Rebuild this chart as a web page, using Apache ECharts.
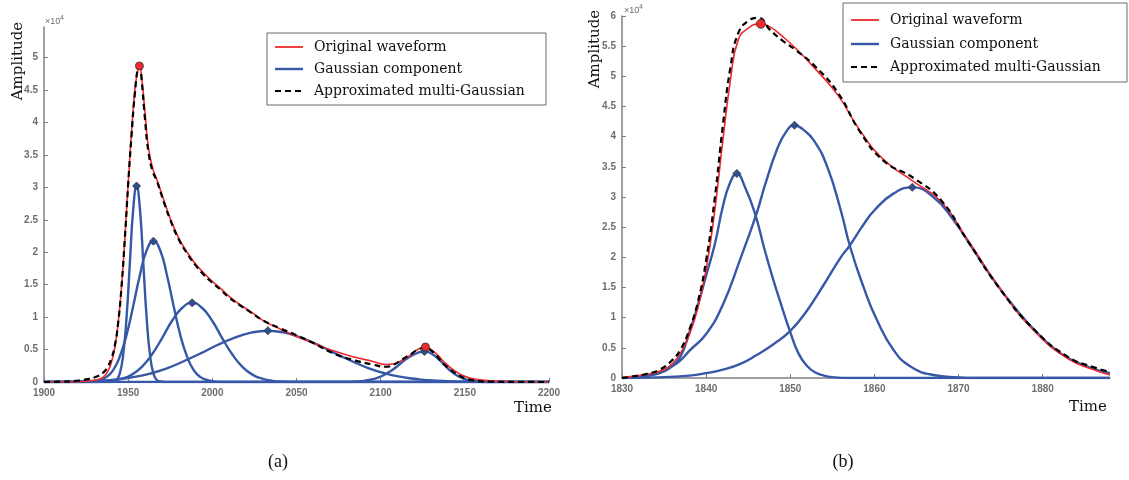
<!DOCTYPE html>
<html>
<head>
<meta charset="utf-8">
<style>
  html, body { margin: 0; padding: 0; background: #fff; }
  #chart { width: 1129px; height: 480px; }
</style>
<script src="https://cdn.jsdelivr.net/npm/echarts/dist/echarts.min.js"></script>
</head>
<body>
<div id="chart"></div>
<script>
// values are in units of 1e4 (axis shows x10^4)

// ---- (a) ----
const xTicksA = [1900, 1950, 2000, 2050, 2100, 2150, 2200]
const yTicksA = [0, 0.5, 1, 1.5, 2, 2.5, 3, 3.5, 4, 4.5, 5]

const origA = [[1900, 0], [1920, 0.005], [1928, 0.02], [1932, 0.04], [1935, 0.07], [1938, 0.17], [1940, 0.3],
  [1942, 0.52], [1944, 0.9], [1946, 1.45], [1948, 2.2], [1950, 3.05], [1952, 3.85], [1954, 4.5], [1956, 4.85],
  [1956.7, 4.87], [1958, 4.7], [1960, 4.15], [1962, 3.62], [1964.5, 3.3], [1967, 3.12], [1971.5, 2.78],
  [1975, 2.52], [1980, 2.22], [1985, 2.0], [1990, 1.82], [1995, 1.68], [2000, 1.55], [2005, 1.44], [2010, 1.32],
  [2016, 1.2], [2023, 1.08], [2030, 0.95], [2040, 0.82], [2050, 0.7], [2060, 0.6], [2072, 0.48], [2085, 0.38],
  [2095, 0.32], [2103, 0.27], [2108, 0.28], [2113, 0.34], [2118, 0.42], [2122, 0.5], [2126.6, 0.54], [2130, 0.5],
  [2134, 0.41], [2138, 0.3], [2142, 0.21], [2146, 0.14], [2150, 0.09], [2155, 0.05], [2162, 0.025], [2170, 0.012],
  [2180, 0.005], [2200, 0]]

const approxA = [[1900, 0], [1910, 0.005], [1920, 0.02], [1925, 0.04], [1930, 0.07], [1935, 0.14], [1938, 0.24],
  [1940, 0.36], [1942, 0.55], [1944, 0.9], [1946, 1.45], [1948, 2.2], [1950, 3.05], [1952, 3.8], [1954, 4.45],
  [1956, 4.85], [1957, 4.86], [1958, 4.65], [1960, 4.05], [1962, 3.55], [1964.5, 3.25], [1967, 3.1], [1971.5, 2.75],
  [1975, 2.5], [1980, 2.2], [1985, 1.98], [1990, 1.8], [1995, 1.65], [2000, 1.53], [2005, 1.42], [2010, 1.3],
  [2016, 1.19], [2023, 1.07], [2030, 0.95], [2040, 0.83], [2050, 0.72], [2060, 0.6], [2072, 0.44], [2085, 0.33],
  [2095, 0.27], [2103, 0.235], [2108, 0.27], [2113, 0.35], [2118, 0.43], [2122, 0.5], [2125.5, 0.52], [2129, 0.5],
  [2133, 0.41], [2137, 0.29], [2141, 0.2], [2146, 0.11], [2150, 0.06], [2155, 0.025], [2165, 0.005], [2200, 0]]

const gaussA1 = [[1900, 0], [1939, 0], [1941, 0.01], [1943, 0.03], [1945, 0.13], [1947, 0.41], [1949, 0.98],
  [1951, 1.83], [1953, 2.66], [1955, 3.02], [1957, 2.66], [1959, 1.83], [1961, 0.98], [1963, 0.41], [1965, 0.13],
  [1967, 0.03], [1969, 0.01], [1972, 0], [2200, 0]]
const gaussA2 = [[1900, 0], [1925, 0], [1929, 0.01], [1933, 0.03], [1937, 0.075], [1941, 0.18], [1945, 0.39],
  [1949, 0.72], [1953, 1.17], [1957, 1.65], [1961, 2.03], [1965, 2.17], [1969, 2.03], [1973, 1.65], [1977, 1.17],
  [1981, 0.72], [1985, 0.39], [1989, 0.18], [1993, 0.075], [1997, 0.03], [2001, 0.01], [2005, 0], [2200, 0]]
const gaussA3 = [[1900, 0], [1930, 0], [1934, 0.006], [1940, 0.018], [1946, 0.048], [1952, 0.11], [1958, 0.23],
  [1964, 0.42], [1970, 0.67], [1976, 0.94], [1982, 1.14], [1988, 1.22], [1994, 1.14], [2000, 0.94], [2006, 0.67],
  [2012, 0.42], [2018, 0.23], [2024, 0.11], [2030, 0.048], [2036, 0.018], [2042, 0.006], [2048, 0], [2200, 0]]
const gaussA4 = [[1900, 0], [1913, 0.004], [1923, 0.0095], [1933, 0.02], [1943, 0.041], [1953, 0.076], [1963, 0.13],
  [1973, 0.21], [1983, 0.32], [1993, 0.44], [2003, 0.57], [2013, 0.68], [2023, 0.76], [2033, 0.79], [2043, 0.76],
  [2053, 0.68], [2063, 0.57], [2073, 0.44], [2083, 0.32], [2093, 0.21], [2103, 0.13], [2113, 0.076], [2123, 0.041],
  [2133, 0.02], [2143, 0.0095], [2153, 0.004], [2163, 0], [2200, 0]]
const gaussA5 = [[1900, 0], [2080, 0], [2086, 0.008], [2090, 0.017], [2094, 0.035], [2098, 0.064], [2102, 0.108],
  [2106, 0.17], [2110, 0.245], [2114, 0.33], [2118, 0.4], [2122, 0.45], [2126, 0.47], [2130, 0.44], [2134, 0.36],
  [2138, 0.26], [2142, 0.16], [2146, 0.09], [2150, 0.044], [2154, 0.018], [2158, 0.007], [2164, 0], [2200, 0]]

const origPeaksA = [[1956.7, 4.87], [2126.6, 0.54]]
const gaussPeaksA = [[1955, 3.02], [1965, 2.17], [1988, 1.22], [2033, 0.79], [2126, 0.47]]

// ---- (b) ----
const xTicksB = [1830, 1840, 1850, 1860, 1870, 1880]
const yTicksB = [0, 0.5, 1, 1.5, 2, 2.5, 3, 3.5, 4, 4.5, 5, 5.5, 6]

const origB = [[1830, 0.01], [1832, 0.04], [1834, 0.09], [1835, 0.14], [1836, 0.24], [1837, 0.42], [1838, 0.72],
  [1839, 1.15], [1840, 1.8], [1841, 2.75], [1842, 3.95], [1842.9, 4.95], [1843.8, 5.6], [1845, 5.8], [1846.5, 5.87],
  [1847.6, 5.82], [1849, 5.67], [1850.6, 5.47], [1853, 5.12], [1855.7, 4.68], [1858.3, 4.1], [1861.1, 3.62],
  [1864.7, 3.25], [1867.9, 2.93], [1871, 2.31], [1875, 1.47], [1879, 0.78], [1883, 0.32], [1886, 0.14], [1888, 0.05]]

const approxB = [[1830, 0], [1831, 0.02], [1833, 0.07], [1834.5, 0.14], [1836, 0.3], [1837, 0.48], [1838, 0.8],
  [1839, 1.25], [1840, 1.95], [1841, 2.95], [1842, 4.2], [1842.9, 5.16], [1843.8, 5.71], [1845, 5.92], [1846.2, 5.97],
  [1847.6, 5.77], [1849, 5.6], [1850.6, 5.44], [1853, 5.16], [1855.7, 4.72], [1858.3, 4.08], [1861.1, 3.6],
  [1864.7, 3.31], [1867.9, 2.95], [1871, 2.29], [1875, 1.46], [1879, 0.8], [1883, 0.35], [1886, 0.18], [1888, 0.1]]

const gaussB1 = [[1830, 0], [1832, 0.02], [1834, 0.06], [1835, 0.11], [1836, 0.2], [1837, 0.37], [1838, 0.75],
  [1839, 1.2], [1840, 1.7], [1841, 2.2], [1842, 2.85], [1842.8, 3.22], [1843.65, 3.39], [1844.6, 3.17], [1845.8, 2.73],
  [1847, 2.1], [1848, 1.62], [1849, 1.18], [1850, 0.76], [1851, 0.4], [1852, 0.2], [1853, 0.09], [1854, 0.04],
  [1855, 0.015], [1857, 0], [1888, 0]]
const gaussB2 = [[1830, 0], [1832, 0.02], [1834, 0.08], [1836, 0.2], [1837, 0.3], [1838, 0.45], [1840, 0.73],
  [1842, 1.22], [1844, 1.95], [1846, 2.73], [1847, 3.2], [1848.4, 3.78], [1849.5, 4.08], [1850.5, 4.19], [1851.5, 4.12],
  [1852.8, 3.94], [1854.4, 3.5], [1856, 2.78], [1857.1, 2.18], [1858.7, 1.51], [1860.3, 0.96], [1862.3, 0.46],
  [1864.3, 0.19], [1867, 0.05], [1870, 0.01], [1872, 0], [1888, 0]]
const gaussB3 = [[1830, 0], [1834, 0.01], [1838, 0.04], [1840, 0.08], [1842, 0.14], [1844, 0.23], [1846, 0.38],
  [1848, 0.56], [1850, 0.78], [1852, 1.12], [1854, 1.55], [1856, 2.0], [1857.1, 2.2], [1858.5, 2.5], [1860, 2.78],
  [1862.3, 3.06], [1864.5, 3.16], [1867, 3.0], [1869.4, 2.62], [1871.8, 2.12], [1874.2, 1.62], [1876.6, 1.18],
  [1879, 0.8], [1882, 0.42], [1885.3, 0.19], [1888, 0.08]]

const origPeaksB = [[1846.5, 5.87]]
const gaussPeaksB = [[1843.65, 3.39], [1850.5, 4.19], [1864.5, 3.16]]

const legendNames = ['Original waveform', 'Gaussian component', 'Approximated multi-Gaussian']

const chart = echarts.init(document.getElementById('chart'))

const RED = '#ee2a2e'
const BLUE = '#3658a6'
const AXIS = '#808080'
const LABEL = '#6e6e6e'
const SERIF = '"DejaVu Serif", serif'

function makeX(idx, min, max, interval, ticks) {
  return {
    type: 'value', gridIndex: idx, min: min, max: max, interval: interval,
    axisLine: { lineStyle: { color: AXIS, width: 1.5 } },
    axisTick: { inside: true, length: 4, customValues: ticks, lineStyle: { color: AXIS } },
    axisLabel: {
      customValues: ticks, color: LABEL, fontSize: 10, fontWeight: 'bold', margin: 6,
      fontFamily: 'Liberation Sans', formatter: v => String(v)
    },
    splitLine: { show: false }
  }
}

function makeY(idx, max, ticks) {
  return {
    type: 'value', gridIndex: idx, min: 0, max: max, interval: 0.5,
    axisLine: { show: true, lineStyle: { color: AXIS, width: 1.5 } },
    axisTick: { show: true, inside: true, length: 4, customValues: ticks, lineStyle: { color: AXIS } },
    axisLabel: {
      customValues: ticks, color: LABEL, fontSize: 10, fontWeight: 'bold', margin: 6,
      fontFamily: 'Liberation Sans', formatter: v => String(v)
    },
    splitLine: { show: false }
  }
}

function line(name, data, idx, color, width, type, z) {
  return {
    name: name, type: 'line', data: data, xAxisIndex: idx, yAxisIndex: idx,
    showSymbol: false, symbol: 'none', smooth: 0.5,
    lineStyle: { color: color, width: width, type: type },
    itemStyle: { color: color },
    z: z, silent: true, animation: false
  }
}

function dots(data, idx, symbol, color, size) {
  return {
    type: 'scatter', data: data, xAxisIndex: idx, yAxisIndex: idx, symbol: symbol, symbolSize: size,
    itemStyle: { color: color, borderColor: '#333', borderWidth: 0.8, opacity: 1 },
    z: 10, silent: true, animation: false
  }
}

const series = []
;[gaussA1, gaussA2, gaussA3, gaussA4, gaussA5].forEach(d => series.push(line(legendNames[1], d, 0, BLUE, 2.4, 'solid', 2)))
series.push(line(legendNames[0], origA, 0, RED, 1.6, 'solid', 3))
series.push(line(legendNames[2], approxA, 0, '#000', 2.2, [6, 4], 4))
series.push(dots(gaussPeaksA, 0, 'diamond', '#2c4f94', 8))
series.push(dots(origPeaksA, 0, 'circle', RED, 8))

;[gaussB1, gaussB2, gaussB3].forEach(d => series.push(line(legendNames[1], d, 1, BLUE, 2.4, 'solid', 2)))
series.push(line(legendNames[0], origB, 1, RED, 1.6, 'solid', 3))
series.push(line(legendNames[2], approxB, 1, '#000', 2.2, [6, 4], 4))
series.push(dots(gaussPeaksB, 1, 'diamond', '#2c4f94', 8))
series.push(dots(origPeaksB, 1, 'circle', RED, 9))

// legend box drawn by hand so the keys are plain line samples
function legendBox(x, y, w, h, rows) {
  const els = [{
    type: 'rect', shape: { x: x, y: y, width: w, height: h }, z: 20,
    style: { fill: '#fff', stroke: '#6a6a6a', lineWidth: 1 }
  }]
  const keys = [
    { stroke: RED, lineWidth: 1.8 },
    { stroke: BLUE, lineWidth: 2.4 },
    { stroke: '#000', lineWidth: 2.2, lineDash: [6, 4] }
  ]
  legendNames.forEach((n, i) => {
    els.push({ type: 'line', z: 21, shape: { x1: x + 8, y1: rows[i], x2: x + 36, y2: rows[i] }, style: keys[i] })
    els.push({
      type: 'text', z: 21, x: x + 47, y: rows[i],
      style: { text: n, font: '14px ' + SERIF, fill: '#111', textVerticalAlign: 'middle' }
    })
  })
  return els
}

function label(text, x, y, size, rot, font) {
  return {
    type: 'text', x: x, y: y, rotation: rot || 0,
    style: { text: text, font: size + 'px ' + (font || SERIF), fill: '#111', textAlign: 'center', textVerticalAlign: 'middle' }
  }
}

function power(x, y) {
  return [
    { type: 'text', x: x, y: y, style: { text: '\u00d710', font: '9px "Liberation Sans"', fill: LABEL, textVerticalAlign: 'middle' } },
    { type: 'text', x: x + 15, y: y - 4, style: { text: '4', font: '7px "Liberation Sans"', fill: LABEL, textVerticalAlign: 'middle' } }
  ]
}

chart.setOption({
  animation: false,
  grid: [
    { left: 44, top: 27, right: 580, bottom: 98 },
    { left: 622, top: 16, right: 19, bottom: 102 }
  ],
  xAxis: [makeX(0, 1900, 2200, 50, xTicksA), makeX(1, 1830, 1888, 10, xTicksB)],
  yAxis: [makeY(0, 5.47, yTicksA), makeY(1, 6, yTicksB)],
  series: series,
  graphic: [
    ...legendBox(267, 33, 279, 72, [47, 69, 91]),
    ...legendBox(843, 3, 284, 79, [20, 44, 67]),
    label('Amplitude', 18, 61, 15, Math.PI / 2),
    label('Amplitude', 595, 49, 15, Math.PI / 2),
    label('Time', 533, 408, 15),
    label('Time', 1088, 407, 15),
    label('(a)', 278, 462, 18, 0, '"Liberation Serif"'),
    label('(b)', 843, 462, 18, 0, '"Liberation Serif"'),
    ...power(45, 22),
    ...power(624, 11)
  ]
})
</script>
</body>
</html>
